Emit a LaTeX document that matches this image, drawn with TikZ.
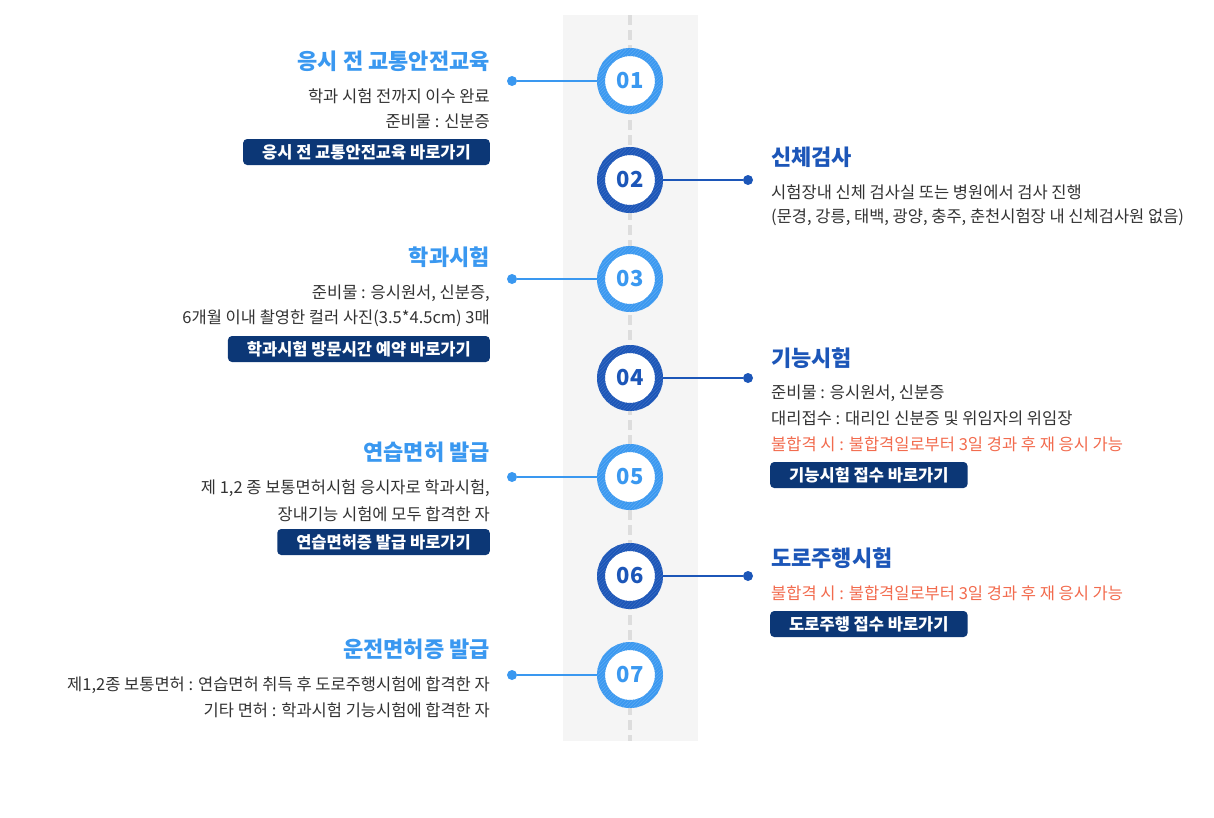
\documentclass[tikz,border=0pt]{standalone}
\usepackage{fontspec}
\setmainfont{Noto Sans CJK KR}
\usepackage{xcolor}
\usetikzlibrary{calc,patterns.meta}
\definecolor{skyblue}{HTML}{3A98F0}
\definecolor{deepblue}{HTML}{1C56B8}
\definecolor{navybtn}{HTML}{0C3776}
\definecolor{warnred}{HTML}{F26B4E}
\definecolor{bodygray}{HTML}{333333}
\definecolor{columngray}{HTML}{F5F5F5}
\definecolor{dashgray}{HTML}{DDDDDD}

\begin{document}
\begin{tikzpicture}[x=1pt,y=-1pt,
  stepring/.style={circle,draw=#1,line width=8pt,fill=white,minimum size=58pt,inner sep=0pt,text=#1,font=\fontsize{22}{22}\selectfont\bfseries},
  ringhatch/.style={even odd rule,pattern={Lines[angle=45,distance=2.5pt,line width=0.5pt]},pattern color=#1},
  stepdot/.style={circle,fill=#1,inner sep=0pt,minimum size=10pt},
  titleL/.style={anchor=east,inner xsep=0pt,text=skyblue,font=\fontsize{22}{22}\selectfont\bfseries},
  titleR/.style={anchor=west,inner xsep=0pt,text=deepblue,font=\fontsize{22}{22}\selectfont\bfseries},
  bodyL/.style={anchor=east,inner xsep=0pt,text=bodygray,font=\fontsize{16.5}{16.5}\selectfont},
  bodyR/.style={anchor=west,inner xsep=0pt,text=bodygray,font=\fontsize{16.5}{16.5}\selectfont},
  linkbtn/.style={fill=navybtn,rounded corners=4pt,text=white,minimum height=26pt,inner xsep=19pt,font=\fontsize{16.5}{16.5}\selectfont\bfseries}]
\useasboundingbox (0,0) rectangle (1214,817);
% timeline column
\fill[columngray] (563,15) rectangle (698,741);
\draw[dashgray,line width=4.5pt,dash pattern=on 10pt off 5pt] (630,15) -- (630,741);
% step rings
\node[stepring=skyblue] (s1) at (630,81) {01};
\node[stepring=deepblue] (s2) at (630,180) {02};
\node[stepring=skyblue] (s3) at (630,279) {03};
\node[stepring=deepblue] (s4) at (630,378) {04};
\node[stepring=skyblue] (s5) at (630,477) {05};
\node[stepring=deepblue] (s6) at (630,576) {06};
\node[stepring=skyblue] (s7) at (630,675) {07};
\path[ringhatch=skyblue!80!white] (s1) circle[radius=33pt] (s1) circle[radius=25pt];
\path[ringhatch=deepblue!85!white] (s2) circle[radius=33pt] (s2) circle[radius=25pt];
\path[ringhatch=skyblue!80!white] (s3) circle[radius=33pt] (s3) circle[radius=25pt];
\path[ringhatch=deepblue!85!white] (s4) circle[radius=33pt] (s4) circle[radius=25pt];
\path[ringhatch=skyblue!80!white] (s5) circle[radius=33pt] (s5) circle[radius=25pt];
\path[ringhatch=deepblue!85!white] (s6) circle[radius=33pt] (s6) circle[radius=25pt];
\path[ringhatch=skyblue!80!white] (s7) circle[radius=33pt] (s7) circle[radius=25pt];
% dots and connectors
\node[stepdot=skyblue] (p1) at (512,81) {};
\node[stepdot=deepblue] (p2) at (748,180) {};
\node[stepdot=skyblue] (p3) at (512,279) {};
\node[stepdot=deepblue] (p4) at (748,378) {};
\node[stepdot=skyblue] (p5) at (512,477) {};
\node[stepdot=deepblue] (p6) at (748,576) {};
\node[stepdot=skyblue] (p7) at (512,675) {};
\draw[skyblue,line width=2pt] (p1) -- (s1);
\draw[deepblue,line width=2pt] (p2) -- (s2);
\draw[skyblue,line width=2pt] (p3) -- (s3);
\draw[deepblue,line width=2pt] (p4) -- (s4);
\draw[skyblue,line width=2pt] (p5) -- (s5);
\draw[deepblue,line width=2pt] (p6) -- (s6);
\draw[skyblue,line width=2pt] (p7) -- (s7);
% 01
\node[titleL] (t1) at (490,61) {응시 전 교통안전교육};
\node[bodyL] (d1a) at (490,96) {학과 시험 전까지 이수 완료};
\node[bodyL] (d1b) at (490,121) {준비물 : 신분증};
\node[linkbtn,anchor=east] (b1) at (490,152) {응시 전 교통안전교육 바로가기};
% 02
\node[titleR] (t2) at (771,157) {신체검사};
\node[bodyR] (d2a) at (771,192) {시험장내 신체 검사실 또는 병원에서 검사 진행};
\node[bodyR] (d2b) at (771,217) {(문경, 강릉, 태백, 광양, 충주, 춘천시험장 내 신체검사원 없음)};
% 03
\node[titleL] (t3) at (490,257) {학과시험};
\node[bodyL] (d3a) at (490,293) {준비물 : 응시원서, 신분증,};
\node[bodyL] (d3b) at (490,318) {6개월 이내 촬영한 컬러 사진(3.5*4.5cm) 3매};
\node[linkbtn,anchor=east] (b3) at (490,349) {학과시험 방문시간 예약 바로가기};
% 04
\node[titleR] (t4) at (771,358) {기능시험};
\node[bodyR] (d4a) at (771,393) {준비물 : 응시원서, 신분증};
\node[bodyR] (d4b) at (771,418) {대리접수 : 대리인 신분증 및 위임자의 위임장};
\node[bodyR,text=warnred] (d4c) at (771,444) {불합격 시 : 불합격일로부터 3일 경과 후 재 응시 가능};
\node[linkbtn,anchor=west] (b4) at (770,475) {기능시험 접수 바로가기};
% 05
\node[titleL] (t5) at (490,452) {연습면허 발급};
\node[bodyL] (d5a) at (490,488) {제 1,2 종 보통면허시험 응시자로 학과시험,};
\node[bodyL] (d5b) at (490,514) {장내기능 시험에 모두 합격한 자};
\node[linkbtn,anchor=east] (b5) at (490,542) {연습면허증 발급 바로가기};
% 06
\node[titleR] (t6) at (771,558) {도로주행시험};
\node[bodyR,text=warnred] (d6a) at (771,593) {불합격 시 : 불합격일로부터 3일 경과 후 재 응시 가능};
\node[linkbtn,anchor=west] (b6) at (770,624) {도로주행 접수 바로가기};
% 07
\node[titleL] (t7) at (490,649) {운전면허증 발급};
\node[bodyL] (d7a) at (490,685) {제1,2종 보통면허 : 연습면허 취득 후 도로주행시험에 합격한 자};
\node[bodyL] (d7b) at (490,710) {기타 면허 : 학과시험 기능시험에 합격한 자};
\end{tikzpicture}
\end{document}
